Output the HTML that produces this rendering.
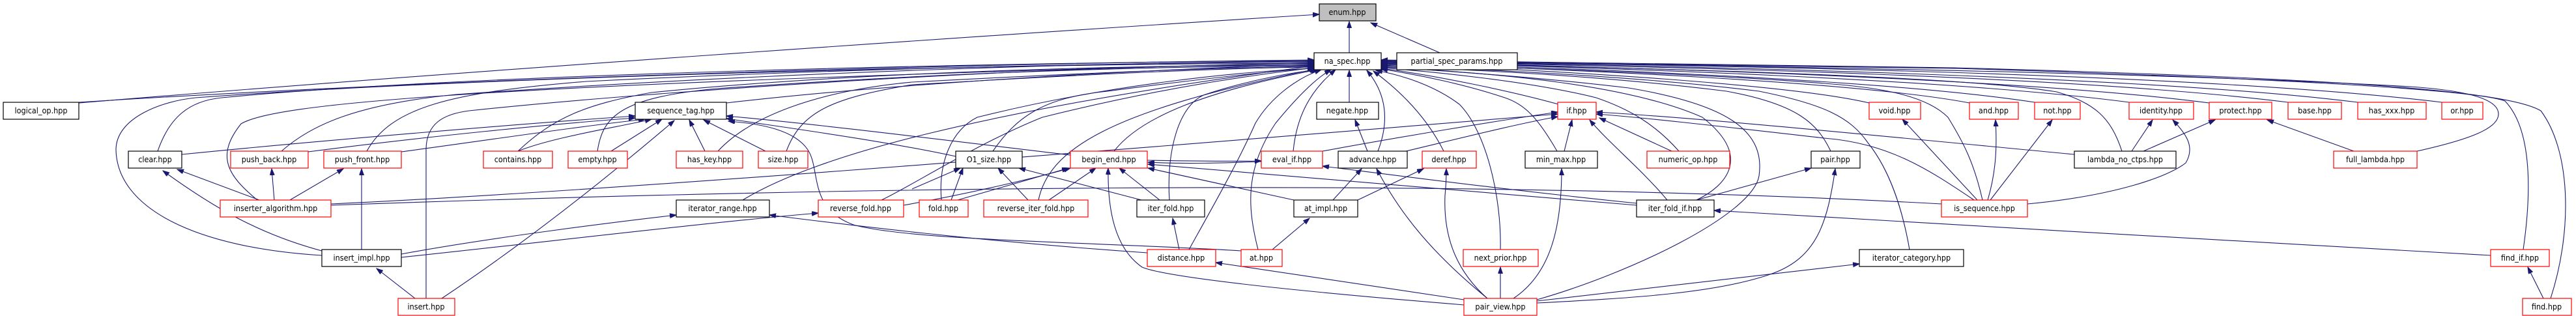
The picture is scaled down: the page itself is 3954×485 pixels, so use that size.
<!DOCTYPE html>
<html><head><meta charset="utf-8"><style>
html,body{margin:0;padding:0;background:#fff;}
svg{display:block;}
text{font-family:"DejaVu Sans Condensed","DejaVu Sans","Liberation Sans",sans-serif;font-size:12.5px;fill:#000;text-anchor:middle;}
.e{fill:none;stroke:#191970;stroke-width:1.1;}
.a{marker-end:url(#ar);}
.b{fill:#fff;stroke:#000;stroke-width:1.2;}
.r{fill:#fff;stroke:#ff0000;stroke-width:1.2;}
.g{fill:#bfbfbf;stroke:#000;stroke-width:1.2;}
</style></head><body>
<svg width="3954" height="485" viewBox="0 0 3954 485" xmlns="http://www.w3.org/2000/svg">
<defs><marker id="ar" markerUnits="userSpaceOnUse" markerWidth="11" markerHeight="8" refX="10" refY="3.5" orient="auto"><path d="M0,0 L10,3.5 L0,7 z" fill="#191970" stroke="#191970"/></marker></defs>

<!-- edges to enum -->
<path class="e a" d="M2071,81 L2071,33"/>
<path class="e a" d="M2210,81 L2104,35"/>
<path class="e a" d="M121,158 C700,110 1500,55 2025,22"/>

<!-- edges to na_spec -->
<path class="e a" d="M121,157 C700,120 1500,97 2017,92"/>
<path class="e a" d="M242,232 C260,180 290,155 340,150 C700,115 1500,96 2017,93"/>
<path class="e a" d="M432,232 C480,190 550,160 700,145 C1200,110 1700,96 2017,94"/>
<path class="e a" d="M563,232 C600,165 690,142 900,125 C1300,105 1700,97 2017,95"/>
<path class="e a" d="M395,307 C350,270 330,240 370,190 C420,160 700,130 2017,96"/>
<path class="e a" d="M494,392 C300,380 180,320 178,230 C178,180 250,155 300,150 C700,120 1500,98 2017,97"/>
<path class="e a" d="M654,458 L654,230 C654,190 680,175 720,170 C1000,140 1600,100 2017,98"/>
<path class="e a" d="M1115,158 C1400,125 1800,105 2017,99"/>
<path class="e a" d="M795,232 C850,180 900,160 1000,142 C1300,112 1700,100 2017,100"/>
<path class="e a" d="M917,232 C925,180 950,150 1100,136 C1400,115 1700,102 2017,101"/>
<path class="e a" d="M1102,232 C1150,180 1250,140 1400,126 C1700,110 1900,103 2017,102"/>
<path class="e a" d="M1207,232 C1230,170 1280,150 1400,130 C1700,112 1900,104 2017,103"/>
<path class="e a" d="M1140,307 C1250,240 1500,170 2017,101"/>
<path class="e a" d="M1353,307 C1400,285 1500,220 1600,180 C1800,130 1950,112 2017,104"/>
<path class="e a" d="M1524,232 C1560,180 1600,150 1700,140 C1850,120 1950,110 2017,104"/>
<path class="e a" d="M1445,307 C1440,250 1460,200 1500,180 C1700,130 1900,110 2017,105"/>
<path class="e a" d="M1594,307 C1610,230 1700,170 2020,106"/>
<path class="e a" d="M1710,232 C1750,180 1850,140 2022,107"/>
<path class="e a" d="M1795,307 C1790,230 1810,160 1850,145 C1920,122 1990,110 2025,107"/>
<path class="e a" d="M1825,383 C1860,320 1900,250 1927,189 C1950,150 1990,120 2028,107"/>
<path class="e a" d="M1931,383 C1915,320 1910,260 1958,189 C1990,150 2020,120 2043,107"/>
<path class="e a" d="M1985,232 C1990,180 2010,140 2050,107"/>
<path class="e a" d="M2071,157 L2071,108"/>
<path class="e a" d="M2115,232 C2135,180 2125,140 2098,108"/>
<path class="e a" d="M2216,232 C2190,180 2150,140 2108,109"/>
<path class="e a" d="M2303,383 C2305,300 2280,200 2240,160 C2200,130 2150,115 2112,108"/>
<path class="e a" d="M2390,232 C2360,180 2340,160 2310,150 C2250,130 2180,115 2120,106"/>
<path class="e a" d="M2392,160 C2320,140 2200,115 2120,105"/>
<path class="e a" d="M2577,232 C2540,190 2500,167 2450,150 C2350,125 2200,110 2120,104"/>
<path class="e a" d="M2604,307 C2650,285 2690,240 2613,180 C2500,130 2300,112 2120,103"/>
<path class="e a" d="M2359,460 C2500,420 2690,330 2700,270 C2710,200 2650,160 2500,135 C2350,117 2200,108 2120,102"/>
<path class="e a" d="M2810,232 C2790,190 2760,160 2650,140 C2450,115 2250,107 2120,101"/>
<path class="e a" d="M2931,383 C2920,320 2900,260 2867,219 C2840,180 2800,160 2700,140 C2500,115 2250,106 2120,100"/>
<path class="e a" d="M3043,307 C3030,250 3014,219 2990,180 C2960,150 2900,135 2800,128 C2600,112 2300,103 2120,99"/>
<path class="e a" d="M2869,158 C2750,130 2400,108 2120,98"/>
<path class="e a" d="M3023,158 C2850,125 2400,106 2120,97"/>
<path class="e a" d="M3123,157 C2900,123 2450,105 2120,97"/>
<path class="e a" d="M3257,232 C3240,180 3215,158 3157,141 C3000,115 2500,104 2120,96"/>
<path class="e a" d="M3268,157 C3000,122 2500,104 2120,96"/>
<path class="e a" d="M3391,158 C3100,120 2500,103 2120,95"/>
<path class="e a" d="M3512,157 C3200,118 2600,102 2120,95"/>
<path class="e a" d="M3619,157 C3300,117 2600,101 2120,94"/>
<path class="e a" d="M3748,157 C3400,115 2700,100 2120,94"/>
<path class="e a" d="M3710,232 C3800,212 3835,195 3835,175 C3835,155 3800,140 3700,133 C3300,110 2600,100 2120,93"/>
<path class="e a" d="M3873,383 C3885,300 3888,200 3845,155 C3800,138 3500,120 3000,105 C2600,97 2300,94 2120,93"/>
<path class="e a" d="M3915,458 C3950,350 3945,230 3900,170 C3850,140 3600,120 3000,104 C2600,96 2300,93 2120,92"/>

<!-- sequence_tag -->
<path class="e a" d="M279,237 C500,215 800,190 975,178"/>
<path class="e a" d="M473,233 C650,210 850,190 975,181"/>
<path class="e a" d="M616,233 C750,215 880,195 990,183"/>
<path class="e a" d="M795,232 C850,210 950,195 1000,183"/>
<path class="e a" d="M938,232 L1016,183"/>
<path class="e a" d="M678,458 C780,390 900,300 1035,185"/>
<path class="e a" d="M1082,232 L1058,184"/>
<path class="e a" d="M1175,232 L1080,184"/>
<path class="e a" d="M1643,238 C1450,215 1250,190 1115,178"/>
<path class="e a" d="M1467,240 C1350,215 1200,195 1115,182"/>
<path class="e a" d="M1905,385 C1700,372 1400,370 1310,345 C1240,320 1260,260 1240,230 C1220,200 1170,190 1118,186"/>

<!-- if -->
<path class="e a" d="M2030,232 C2150,210 2300,185 2391,172"/>
<path class="e a" d="M508,313 C900,295 1600,240 2391,175"/>
<path class="e a" d="M2158,232 C2250,210 2330,190 2391,179"/>
<path class="e a" d="M2401,232 L2413,184"/>
<path class="e a" d="M2559,307 C2520,260 2470,220 2440,184"/>
<path class="e a" d="M2566,232 L2455,181"/>
<path class="e a" d="M3184,237 C2900,210 2600,180 2450,172"/>
<path class="e a" d="M3030,307 C2960,260 2900,220 2800,212 C2650,195 2520,180 2450,175"/>

<!-- begin_end, O1_size -->
<path class="e a" d="M1470,307 L1640,258"/>
<path class="e a" d="M1610,307 L1682,258"/>
<path class="e a" d="M1780,307 L1718,258"/>
<path class="e a" d="M1986,307 L1762,258"/>
<path class="e a" d="M2247,468 C2100,456 1800,430 1753,410 C1710,380 1700,320 1701,258"/>
<path class="e a" d="M1936,248 C1880,250 1820,252 1762,249"/>
<path class="e a" d="M1761,246 C1820,247 1880,248 1936,247"/>
<path class="e a" d="M2512,315 C2200,290 1900,265 1762,252"/>
<path class="e a" d="M2512,312 C2300,290 2150,270 2030,255"/>
<path class="e a" d="M1460,307 L1478,258"/>
<path class="e a" d="M1578,307 L1532,258"/>
<path class="e a" d="M1752,307 L1564,258"/>
<path class="e a" d="M1400,290 L1474,258"/>
<path class="e a" d="M1387,315 C1500,295 1600,270 1643,258"/>

<!-- left group -->
<path class="e a" d="M398,307 L272,260"/>
<path class="e a" d="M494,385 C400,360 330,320 250,262"/>
<path class="e a" d="M421,307 L417,259"/>
<path class="e a" d="M445,307 L527,259"/>
<path class="e a" d="M555,383 L555,259"/>
<path class="e a" d="M637,458 L578,412"/>
<path class="e a" d="M616,390 C750,365 950,340 1038,330"/>
<path class="e a" d="M1761,388 C1500,370 1300,345 1181,330"/>
<path class="e a" d="M616,395 C850,370 1100,340 1256,327"/>

<!-- middle/right -->
<path class="e a" d="M2099,232 L2080,184"/>
<path class="e a" d="M2046,307 L2090,259"/>
<path class="e a" d="M1953,383 L2010,335"/>
<path class="e a" d="M1810,383 L1800,335"/>
<path class="e a" d="M2247,460 L1866,403"/>
<path class="e a" d="M2283,458 C2200,390 2150,330 2113,259"/>
<path class="e a" d="M2283,458 C2240,420 2215,370 2218,300 C2220,280 2220,270 2220,259"/>
<path class="e a" d="M2084,307 L2185,259"/>
<path class="e a" d="M2323,458 C2380,420 2397,350 2397,259"/>
<path class="e a" d="M2303,458 L2303,410"/>
<path class="e a" d="M2359,465 C2500,458 2636,450 2720,420 C2790,395 2805,340 2817,259"/>
<path class="e a" d="M2604,307 L2780,258"/>
<path class="e a" d="M3823,392 C3500,374 3000,345 2631,323"/>
<path class="e a" d="M2359,462 C2550,440 2750,418 2854,405"/>
<path class="e" d="M508,315 C1200,290 2200,270 2980,313"/>
<path class="e a" d="M3035,307 L2920,183"/>
<path class="e a" d="M3051,307 C3065,260 3065,220 3063,184"/>
<path class="e a" d="M3055,307 L3150,184"/>
<path class="e a" d="M3112,313 C3250,300 3330,270 3355,250 C3370,225 3355,205 3335,184"/>
<path class="e a" d="M3272,232 L3304,184"/>
<path class="e a" d="M3290,232 L3400,184"/>
<path class="e a" d="M3613,232 L3480,184"/>
<path class="e a" d="M3904,458 L3880,410"/>

<!-- nodes -->
<rect class="g" x="2025" y="6" width="87" height="26"/><text x="2068" y="23">enum.hpp</text>
<rect class="b" x="2017" y="81" width="103" height="26"/><text x="2068" y="98">na_spec.hpp</text>
<rect class="b" x="2144" y="81" width="185" height="26"/><text x="2236" y="98">partial_spec_params.hpp</text>

<rect class="b" x="5" y="157" width="116" height="26"/><text x="63" y="174">logical_op.hpp</text>
<rect class="b" x="975" y="157" width="140" height="26"/><text x="1045" y="174">sequence_tag.hpp</text>
<rect class="b" x="2021" y="157" width="95" height="26"/><text x="2068" y="174">negate.hpp</text>
<rect class="r" x="2391" y="157" width="59" height="26"/><text x="2420" y="174">if.hpp</text>
<rect class="r" x="2869" y="157" width="79" height="26"/><text x="2908" y="174">void.hpp</text>
<rect class="r" x="3023" y="157" width="75" height="26"/><text x="3060" y="174">and.hpp</text>
<rect class="r" x="3123" y="157" width="70" height="26"/><text x="3158" y="174">not.hpp</text>
<rect class="r" x="3268" y="157" width="99" height="26"/><text x="3317" y="174">identity.hpp</text>
<rect class="r" x="3391" y="157" width="96" height="26"/><text x="3439" y="174">protect.hpp</text>
<rect class="r" x="3512" y="157" width="82" height="26"/><text x="3553" y="174">base.hpp</text>
<rect class="r" x="3619" y="157" width="105" height="26"/><text x="3671" y="174">has_xxx.hpp</text>
<rect class="r" x="3748" y="157" width="63" height="26"/><text x="3779" y="174">or.hpp</text>

<rect class="b" x="197" y="232" width="82" height="26"/><text x="238" y="249">clear.hpp</text>
<rect class="r" x="354" y="232" width="119" height="26"/><text x="413" y="249">push_back.hpp</text>
<rect class="r" x="497" y="232" width="119" height="26"/><text x="556" y="249">push_front.hpp</text>
<rect class="r" x="742" y="232" width="106" height="26"/><text x="795" y="249">contains.hpp</text>
<rect class="r" x="872" y="232" width="91" height="26"/><text x="917" y="249">empty.hpp</text>
<rect class="r" x="1038" y="232" width="102" height="26"/><text x="1089" y="249">has_key.hpp</text>
<rect class="r" x="1164" y="232" width="76" height="26"/><text x="1202" y="249">size.hpp</text>
<rect class="b" x="1467" y="232" width="102" height="26"/><text x="1518" y="249">O1_size.hpp</text>
<rect class="r" x="1643" y="232" width="118" height="26"/><text x="1702" y="249">begin_end.hpp</text>
<rect class="r" x="1936" y="232" width="94" height="26"/><text x="1983" y="249">eval_if.hpp</text>
<rect class="b" x="2054" y="232" width="106" height="26"/><text x="2107" y="249">advance.hpp</text>
<rect class="r" x="2183" y="232" width="83" height="26"/><text x="2224" y="249">deref.hpp</text>
<rect class="b" x="2341" y="232" width="111" height="26"/><text x="2396" y="249">min_max.hpp</text>
<rect class="r" x="2528" y="232" width="127" height="26"/><text x="2591" y="249">numeric_op.hpp</text>
<rect class="b" x="2780" y="232" width="75" height="26"/><text x="2817" y="249">pair.hpp</text>
<rect class="b" x="3184" y="232" width="156" height="26"/><text x="3262" y="249">lambda_no_ctps.hpp</text>
<rect class="r" x="3582" y="232" width="128" height="26"/><text x="3646" y="249">full_lambda.hpp</text>

<rect class="r" x="338" y="307" width="170" height="26"/><text x="423" y="324">inserter_algorithm.hpp</text>
<rect class="b" x="1038" y="307" width="143" height="26"/><text x="1109" y="324">iterator_range.hpp</text>
<rect class="r" x="1256" y="307" width="131" height="26"/><text x="1321" y="324">reverse_fold.hpp</text>
<rect class="r" x="1411" y="307" width="75" height="26"/><text x="1448" y="324">fold.hpp</text>
<rect class="r" x="1510" y="307" width="160" height="26"/><text x="1590" y="324">reverse_iter_fold.hpp</text>
<rect class="b" x="1745" y="307" width="104" height="26"/><text x="1797" y="324">iter_fold.hpp</text>
<rect class="b" x="1986" y="307" width="98" height="26"/><text x="2035" y="324">at_impl.hpp</text>
<rect class="b" x="2512" y="307" width="119" height="26"/><text x="2571" y="324">iter_fold_if.hpp</text>
<rect class="r" x="2980" y="307" width="132" height="26"/><text x="3046" y="324">is_sequence.hpp</text>

<rect class="b" x="494" y="383" width="122" height="26"/><text x="555" y="400">insert_impl.hpp</text>
<rect class="r" x="1761" y="383" width="105" height="26"/><text x="1813" y="400">distance.hpp</text>
<rect class="r" x="1905" y="383" width="63" height="26"/><text x="1936" y="400">at.hpp</text>
<rect class="r" x="2246" y="383" width="115" height="26"/><text x="2303" y="400">next_prior.hpp</text>
<rect class="b" x="2854" y="383" width="160" height="26"/><text x="2934" y="400">iterator_category.hpp</text>
<rect class="r" x="3823" y="383" width="90" height="26"/><text x="3868" y="400">find_if.hpp</text>

<rect class="r" x="611" y="458" width="87" height="26"/><text x="654" y="475">insert.hpp</text>
<rect class="r" x="2247" y="458" width="112" height="26"/><text x="2303" y="475">pair_view.hpp</text>
<rect class="r" x="3872" y="458" width="75" height="26"/><text x="3909" y="475">find.hpp</text>
</svg>
</body></html>
